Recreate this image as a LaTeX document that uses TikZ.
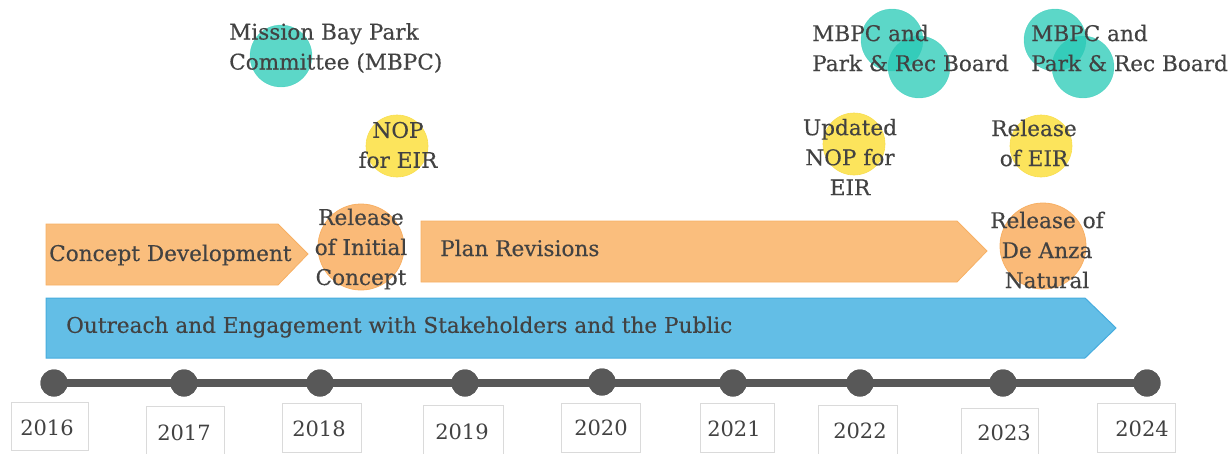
\documentclass[tikz,border=0pt]{standalone}
\usepackage{fontspec}
\setmainfont{DejaVu Serif}
\newfontfamily\labelfont{DejaVu Serif}[FakeBold=0.35]
\begin{document}
\begin{tikzpicture}[x=1pt,y=-1pt,
  txt/.style={text=inkgray,inner sep=0pt,align=center,font=\labelfont\fontsize{21.6}{30}\selectfont},
  yeartxt/.style={text=inkgray,inner sep=0pt,font=\fontsize{21}{24}\selectfont},
  yearbox/.style={draw=boxgray,line width=0.8pt,fill=white},
  dot/.style={circle,fill=linegray,inner sep=0pt,minimum size=27pt},
  tealdisc/.style={circle,fill=tealc,fill opacity=0.75,draw=tealc,draw opacity=0.5,inner sep=0pt,minimum size=62pt},
  yellowdisc/.style={circle,fill=yellowc,draw=yellowd,line width=0.6pt,inner sep=0pt,minimum size=62pt},
  orangedisc/.style={circle,fill=orangec,draw=oranged,line width=0.8pt,inner sep=0pt,minimum size=86pt},
  phase/.style={fill=orangea,draw=oranged,line width=0.8pt},
  outreach/.style={fill=bluea,draw=blued,line width=1pt},
  axis/.style={linegray,line width=8pt}
]
\definecolor{inkgray}{RGB}{66,66,66}
\definecolor{linegray}{RGB}{88,88,88}
\definecolor{boxgray}{RGB}{218,218,218}
\definecolor{tealc}{RGB}{38,201,181}
\definecolor{yellowc}{RGB}{252,228,92}
\definecolor{yellowd}{RGB}{248,222,80}
\definecolor{orangec}{RGB}{250,186,120}
\definecolor{orangea}{RGB}{250,190,125}
\definecolor{oranged}{RGB}{247,176,100}
\definecolor{bluea}{RGB}{99,190,230}
\definecolor{blued}{RGB}{70,172,222}

\useasboundingbox (0,0) rectangle (1232,453);

% ---- phase arrows ----
\path[phase] (46,224) -- (278,224) -- (308,254) -- (278,285) -- (46,285) -- cycle;
\path[phase] (421,221) -- (957,221) -- (987,251) -- (957,282) -- (421,282) -- cycle;
\path[outreach] (46,298) -- (1085,298) -- (1116,328) -- (1085,358) -- (46,358) -- cycle;
\node[txt,anchor=west] (concept) at (49,255) {Concept Development};
\node[txt,anchor=west] (revisions) at (440,248) {Plan Revisions};
\node[txt,anchor=west] (engage) at (66,327) {Outreach and Engagement with Stakeholders and the Public};

% ---- milestone discs ----
\node[orangedisc] (rel1) at (361,247) {};
\node[orangedisc] (rel2) at (1043,246) {};
\node[yellowdisc] (nop1) at (397,146) {};
\node[yellowdisc] (nop2) at (854,144) {};
\node[yellowdisc] (eir) at (1041,146) {};
\node[tealdisc] (mbpc) at (281,56) {};
\node[tealdisc] (board1a) at (892,40) {};
\node[tealdisc] (board1b) at (919,67) {};
\node[tealdisc] (board2a) at (1055,40) {};
\node[tealdisc] (board2b) at (1083,67) {};

% ---- milestone labels ----
\node[txt] (rel1t) at (361,249) {Release\\of Initial\\Concept};
\node[txt] (rel2t) at (1047,250) {Release of\\De Anza\\Natural};
\node[txt] (nop1t) at (398,145) {NOP\\for EIR};
\node[txt] (nop2t) at (850,157) {Updated\\NOP for\\EIR};
\node[txt] (eirt) at (1034,143) {Release\\of EIR};
\node[txt,anchor=west,align=left] (mbpct) at (229,48) {Mission Bay Park\\Committee (MBPC)};
\node[txt,anchor=west,align=left] (board1t) at (812,48) {MBPC and\\Park \& Rec Board};
\node[txt,anchor=west,align=left] (board2t) at (1031,48) {MBPC and\\Park \& Rec Board};

% ---- year boxes ----
\path[yearbox] (11,402) rectangle (88,450);
\path[yearbox] (146,406) rectangle (224,455);
\path[yearbox] (282,403) rectangle (361,452);
\path[yearbox] (423,405) rectangle (503,455);
\path[yearbox] (561,403) rectangle (640,452);
\path[yearbox] (700,403) rectangle (774,452);
\path[yearbox] (818,405) rectangle (897,455);
\path[yearbox] (961,408) rectangle (1038,455);
\path[yearbox] (1097,403) rectangle (1175,452);
\node[yeartxt] (y16) at (47,428) {2016};
\node[yeartxt] (y17) at (184,433) {2017};
\node[yeartxt] (y18) at (319,429) {2018};
\node[yeartxt] (y19) at (462,432) {2019};
\node[yeartxt] (y20) at (601,428) {2020};
\node[yeartxt] (y21) at (734,429) {2021};
\node[yeartxt] (y22) at (860,431) {2022};
\node[yeartxt] (y23) at (1004,433) {2023};
\node[yeartxt] (y24) at (1142,429) {2024};

% ---- time axis ----
\node[dot] (d16) at (54,383) {};
\node[dot] (d17) at (184,383) {};
\node[dot] (d18) at (320,383) {};
\node[dot] (d19) at (465,383) {};
\node[dot] (d20) at (602,382) {};
\node[dot] (d21) at (733,383) {};
\node[dot] (d22) at (860,383) {};
\node[dot] (d23) at (1003,383) {};
\node[dot] (d24) at (1147,383) {};
\draw[axis] (d16.center) -- (d24.center);
\foreach \d in {d16,d17,d18,d19,d20,d21,d22,d23,d24}
  \fill[linegray] (\d) circle (13.5pt);
\end{tikzpicture}
\end{document}
